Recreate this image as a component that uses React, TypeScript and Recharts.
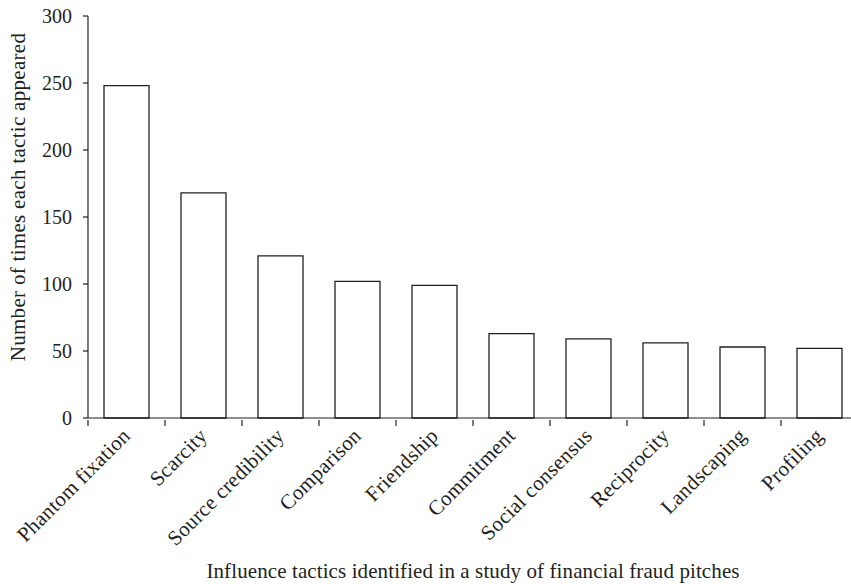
import React from "react"
import { BarChart, Bar, XAxis, YAxis, Label } from "recharts"

const tactics = [
  "Phantom fixation",
  "Scarcity",
  "Source credibility",
  "Comparison",
  "Friendship",
  "Commitment",
  "Social consensus",
  "Reciprocity",
  "Landscaping",
  "Profiling",
]
const counts = [248, 168, 121, 102, 99, 63, 59, 56, 53, 52]
const yTicks = [0, 50, 100, 150, 200, 250, 300]

const data = tactics.map((name, i) => ({ name, count: counts[i] }))

const FONT = "'Liberation Serif', 'Times New Roman', serif"
const INK = "#231f20"
const FS = 21

// ticks sit on the category boundaries, labels run diagonally up to the centre
function CategoryTick(props: any) {
  const { x, y, payload } = props
  const half = payload && payload.offset ? payload.offset : 38.5
  return (
    <g>
      <line x1={x - half} x2={x - half} y1={y - 6} y2={y} stroke={INK} strokeWidth={1.2} />
      <text
        x={x + 5}
        y={y + 11}
        transform={`rotate(-45 ${x + 5} ${y + 11})`}
        textAnchor="end"
        fontFamily={FONT}
        fontSize={FS}
        letterSpacing={0.3}
        fill={INK}
      >
        {payload.value}
      </text>
    </g>
  )
}

export default function App() {
  return (
    <div style={{ position: "fixed", left: 0, top: 0, width: 851, height: 584, overflow: "hidden", background: "#fff" }}>
      <BarChart
        width={860}
        height={584}
        data={data}
        margin={{ top: 16, right: 2, bottom: 6, left: 28 }}
      >
        <XAxis
          dataKey="name"
          interval={0}
          height={160}
          tickLine={false}
          axisLine={{ stroke: INK, strokeWidth: 1.2 }}
          tick={<CategoryTick />}
        >
          <Label
            content={() => (
              <text x={473} y={578} textAnchor="middle" fontFamily={FONT} fontSize={FS} letterSpacing={0.1} fill={INK}>
                Influence tactics identified in a study of financial fraud pitches
              </text>
            )}
          />
        </XAxis>
        <YAxis
          width={60}
          domain={[0, 300]}
          ticks={yTicks}
          interval={0}
          tickSize={5}
          tickMargin={11}
          axisLine={{ stroke: INK, strokeWidth: 1.2 }}
          tickLine={{ stroke: INK, strokeWidth: 1.2 }}
          tick={{ fontFamily: FONT, fontSize: 20, fill: INK }}
        >
          <Label
            content={() => (
              <text
                x={25}
                y={197}
                transform="rotate(-90 25 197)"
                textAnchor="middle"
                fontFamily={FONT}
                fontSize={FS}
                letterSpacing={0.3}
                fill={INK}
              >
                Number of times each tactic appeared
              </text>
            )}
          />
        </YAxis>
        <Bar
          dataKey="count"
          barSize={45}
          fill="#ffffff"
          stroke={INK}
          strokeWidth={1.3}
          isAnimationActive={false}
        />
      </BarChart>
    </div>
  )
}
